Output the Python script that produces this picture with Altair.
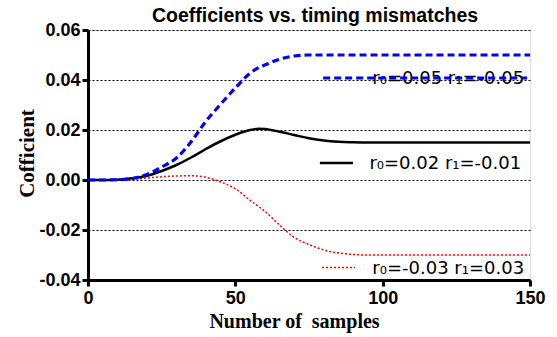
import altair as alt
import pandas as pd

# ---- data ----
samples = [0, 5, 10, 15, 20, 25, 30, 35, 40, 45, 50, 55, 58, 60, 65, 70, 75, 80, 85, 90, 95, 100, 110, 120, 130, 140, 150]
blue_y = [0, 0, 0.0001, 0.0006, 0.0022, 0.0052, 0.0088, 0.0153, 0.0235, 0.0303, 0.0368, 0.0427, 0.0450, 0.0460, 0.0483,
          0.0496, 0.0500, 0.0500, 0.0500, 0.0500, 0.0500, 0.0500, 0.0500, 0.0500, 0.0500, 0.0500, 0.0500]
black_y = [0, 0, 0.0001, 0.0007, 0.0017, 0.0036, 0.0060, 0.0090, 0.0124, 0.0155, 0.0181, 0.0200, 0.0205, 0.0204, 0.0193,
           0.0180, 0.0167, 0.0158, 0.0153, 0.0151, 0.0150, 0.0150, 0.0150, 0.0150, 0.0150, 0.0150, 0.0150]
red_y = [0, 0, 0.0001, 0.0003, 0.0008, 0.0013, 0.0016, 0.0017, 0.0011, -0.0008, -0.0035, -0.0081, -0.0107, -0.0125, -0.0180,
         -0.0230, -0.0258, -0.0280, -0.0292, -0.0298, -0.0300, -0.0300, -0.0300, -0.0300, -0.0300, -0.0300, -0.0300]

legend_labels = ["r\u2080=0.05 r\u2081=-0.05", "r\u2080=0.02 r\u2081=-0.01", "r\u2080=-0.03 r\u2081=0.03"]
legend_y = [0.0408, 0.0068, -0.0350]
legend_x0 = [79.8, 78.7, 79.4]
legend_x1 = [149.0, 89.9, 90.6]
legend_text_x = [96.5, 95.5, 96.5]

chart_title = ["Coefficients vs. timing mismatches"]

y_ticks = [-0.04, -0.03, -0.02, -0.01, 0.0, 0.01, 0.02, 0.03, 0.04, 0.05, 0.06]
x_ticks = [0, 50, 100, 150]

SANS = "Liberation Sans"
SERIF = "Liberation Serif"
LEG = "DejaVu Sans"

xs = alt.Scale(domain=[0, 150], nice=False, zero=False)
ys = alt.Scale(domain=[-0.04, 0.06], nice=False, zero=False)

x_axis = alt.Axis(values=x_ticks, format="d", title="Number of\u00a0 samples", grid=False, labelFlush=False,
                  domainColor="black", domainWidth=3, tickColor="black", tickWidth=3, tickSize=6,
                  labelFont=SANS, labelFontWeight="bold", labelFontSize=18, labelColor="black", labelPadding=3,
                  titleFont=SERIF, titleFontWeight="bold", titleFontSize=20, titleColor="black",
                  titleX=206, titleY=47, titleBaseline="alphabetic")
y_axis = alt.Axis(values=y_ticks, format=".2f", labelFlush=False,
                  labelExpr="abs(round(datum.value*100))%2==0 ? replace(datum.label, '\u2212', '-') : ''",
                  title="Cofficient", grid=True, gridColor="black", gridDash=[2, 2], gridWidth=1, gridOpacity=1,
                  domainColor="black", domainWidth=3, tickColor="black", tickWidth=3, tickSize=6,
                  labelFont=SANS, labelFontWeight="bold", labelFontSize=18, labelColor="black", labelPadding=2,
                  titleFont=SERIF, titleFontWeight="bold", titleFontSize=21, titleColor="black",
                  titleX=-55, titleY=123, titleBaseline="alphabetic", titleAngle=270)

df_blue = pd.DataFrame({"n": samples, "c": blue_y})
df_black = pd.DataFrame({"n": samples, "c": black_y})
df_red = pd.DataFrame({"n": samples, "c": red_y})

base_x = alt.X("n:Q", scale=xs, axis=x_axis)
base_y = alt.Y("c:Q", scale=ys, axis=y_axis)

blue = alt.Chart(df_blue).mark_line(color="#0000ff", strokeWidth=3.2, strokeDash=[7, 4], interpolate="monotone").encode(x=base_x, y=base_y)
black = alt.Chart(df_black).mark_line(color="black", strokeWidth=2.5, interpolate="monotone").encode(x="n:Q", y="c:Q")
red = alt.Chart(df_red).mark_line(color="#ff0000", strokeWidth=1.5, strokeDash=[2, 2], interpolate="monotone").encode(x="n:Q", y="c:Q")

leg = pd.DataFrame({"label": legend_labels, "y": legend_y, "x0": legend_x0, "x1": legend_x1, "tx": legend_text_x,
                    "k": [0, 1, 2]})

leg_text = alt.Chart(leg).mark_text(font=LEG, fontSize=18, color="black", align="left", baseline="middle", dy=1).encode(
    x="tx:Q", y="y:Q", text="label:N")
leg_blue = alt.Chart(leg).transform_filter("datum.k==0").mark_rule(color="#0000ff", strokeWidth=3.2, strokeDash=[7, 4]).encode(
    x="x0:Q", x2="x1:Q", y="y:Q")
leg_black = alt.Chart(leg).transform_filter("datum.k==1").mark_rule(color="black", strokeWidth=2.5).encode(
    x="x0:Q", x2="x1:Q", y="y:Q")
leg_red = alt.Chart(leg).transform_filter("datum.k==2").mark_rule(color="#ff0000", strokeWidth=1.5, strokeDash=[2, 2]).encode(
    x="x0:Q", x2="x1:Q", y="y:Q")

title_mark = alt.Chart(pd.DataFrame({"t": chart_title})).mark_text(
    font=SANS, fontWeight="bold", fontSize=19.5, color="black", align="center", baseline="alphabetic"
).encode(x=alt.value(227), y=alt.value(-8), text="t:N")

chart = alt.layer(red, black, blue, leg_text, leg_black, leg_red, leg_blue, title_mark).properties(
    width=442, height=250,
    autosize=alt.AutoSizeParams(type="none"),
    padding={"left": 88, "top": 30, "right": 27, "bottom": 57},
).configure_view(stroke="black", strokeWidth=3).configure(background="white")

chart.save("out.html", embed_options={"renderer": "svg", "actions": False})
